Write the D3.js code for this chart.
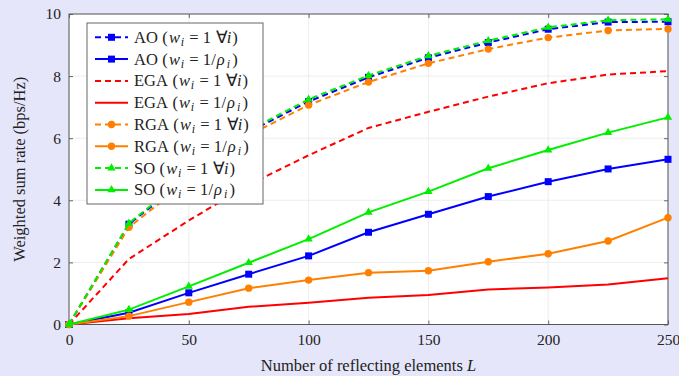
<!DOCTYPE html>
<html>
<head>
<meta charset="utf-8">
<script src="https://cdn.jsdelivr.net/npm/d3@7"></script>
<style>
  body { margin: 0; background: #e6e6fa; }
  svg text { font-family: "Liberation Serif", "Times New Roman", Times, serif; }
</style>
</head>
<body>
<svg id="chart" width="679" height="376"></svg>
<script>
// data
const elements = [0, 25, 50, 75, 100, 125, 150, 175, 200, 225, 250];
const aoEqual = [0, 3.23, 4.75, 6.2, 7.18, 7.96, 8.59, 9.08, 9.51, 9.74, 9.75];
const aoWeighted = [0, 0.38, 1.02, 1.62, 2.21, 2.97, 3.55, 4.12, 4.6, 5.01, 5.32];
const egaEqual = [0, 2.11, 3.35, 4.5, 5.45, 6.33, 6.85, 7.34, 7.77, 8.05, 8.16];
const egaWeighted = [0, 0.2, 0.34, 0.57, 0.7, 0.86, 0.95, 1.13, 1.19, 1.29, 1.49];
const rgaEqual = [0, 3.13, 4.65, 6.1, 7.07, 7.81, 8.41, 8.87, 9.24, 9.47, 9.52];
const rgaWeighted = [0, 0.27, 0.72, 1.17, 1.43, 1.67, 1.73, 2.02, 2.28, 2.69, 3.44];
const soEqual = [0, 3.26, 4.8, 6.25, 7.25, 8.02, 8.65, 9.14, 9.57, 9.8, 9.83];
const soWeighted = [0, 0.48, 1.23, 1.99, 2.75, 3.61, 4.28, 5.03, 5.62, 6.18, 6.67];

const xTicks = [0, 50, 100, 150, 200, 250];
const yTicks = [0, 2, 4, 6, 8, 10];

const series = [
  { algo: "AO", w: "eq", values: aoEqual, color: "#0000ff", dash: true, marker: "square" },
  { algo: "AO", w: "rho", values: aoWeighted, color: "#0000ff", dash: false, marker: "square" },
  { algo: "EGA", w: "eq", values: egaEqual, color: "#ff0000", dash: true, marker: null },
  { algo: "EGA", w: "rho", values: egaWeighted, color: "#ff0000", dash: false, marker: null },
  { algo: "RGA", w: "eq", values: rgaEqual, color: "#ff8000", dash: true, marker: "circle" },
  { algo: "RGA", w: "rho", values: rgaWeighted, color: "#ff8000", dash: false, marker: "circle" },
  { algo: "SO", w: "eq", values: soEqual, color: "#00ee00", dash: true, marker: "triangle" },
  { algo: "SO", w: "rho", values: soWeighted, color: "#00ee00", dash: false, marker: "triangle" }
];

const margin = { top: 14, right: 11, bottom: 51.5, left: 69 };
const W = 679, H = 376;
const pw = W - margin.left - margin.right, ph = H - margin.top - margin.bottom;
const serif = "Liberation Serif, Times New Roman, serif";

const svg = d3.select("#chart");
const g = svg.append("g").attr("transform", `translate(${margin.left},${margin.top})`);

const x = d3.scaleLinear().domain([0, 250]).range([0, pw]);
const y = d3.scaleLinear().domain([0, 10]).range([ph, 0]);

g.append("rect").attr("width", pw).attr("height", ph).attr("fill", "#fff");

// grid
g.selectAll(".gx").data(xTicks).enter().append("line")
  .attr("x1", d => x(d)).attr("x2", d => x(d)).attr("y1", 0).attr("y2", ph)
  .attr("stroke", "#e8e8e8").attr("stroke-width", 0.8);
g.selectAll(".gy").data(yTicks).enter().append("line")
  .attr("y1", d => y(d)).attr("y2", d => y(d)).attr("x1", 0).attr("x2", pw)
  .attr("stroke", "#e8e8e8").attr("stroke-width", 0.8);

// axes (ticks inward, on both sides)
const axB = g.append("g").attr("transform", `translate(0,${ph})`)
  .call(d3.axisBottom(x).tickValues(xTicks).tickSize(-4).tickPadding(9));
const axT = g.append("g").call(d3.axisTop(x).tickValues(xTicks).tickSize(-4).tickFormat(""));
const axL = g.append("g").call(d3.axisLeft(y).tickValues(yTicks).tickSize(-4).tickPadding(8));
const axR = g.append("g").attr("transform", `translate(${pw},0)`)
  .call(d3.axisRight(y).tickValues(yTicks).tickSize(-4).tickFormat(""));
[axB, axT, axL, axR].forEach(a => {
  a.attr("font-family", serif).attr("font-size", 15.5);
  a.select(".domain").remove();
  a.selectAll(".tick line").attr("stroke", "#666");
  a.selectAll("text").attr("fill", "#222");
});

g.append("rect").attr("width", pw).attr("height", ph)
  .attr("fill", "none").attr("stroke", "#555").attr("stroke-width", 1);

// lines
const line = d3.line().x((d, i) => x(elements[i])).y(d => y(d));

function drawMarker(sel, type, color) {
  if (type === "square") {
    sel.append("rect").attr("x", -3.5).attr("y", -3.5).attr("width", 7).attr("height", 7).attr("fill", color);
  } else if (type === "circle") {
    sel.append("circle").attr("r", 3.7).attr("fill", color);
  } else if (type === "triangle") {
    sel.append("path").attr("d", d3.symbol(d3.symbolTriangle, 30)()).attr("fill", color);
  }
}

series.forEach(s => {
  g.append("path").datum(s.values)
    .attr("d", line)
    .attr("fill", "none")
    .attr("stroke", s.color)
    .attr("stroke-width", 2)
    .attr("stroke-dasharray", s.dash ? "6,4" : null);
  if (s.marker) {
    s.values.forEach((v, i) => {
      const m = g.append("g").attr("transform", `translate(${x(elements[i])},${y(v)})`);
      drawMarker(m, s.marker, s.color);
    });
  }
});

// axis titles
svg.append("text")
  .attr("x", margin.left + pw / 2).attr("y", 371)
  .attr("text-anchor", "middle").attr("font-size", 16.5).attr("fill", "#222")
  .text("Number of reflecting elements ")
  .append("tspan").attr("font-style", "italic").text("L");

svg.append("text")
  .attr("transform", `translate(25,${margin.top + ph / 2}) rotate(-90)`)
  .attr("text-anchor", "middle").attr("font-size", 16.5).attr("fill", "#222")
  .text("Weighted sum rate (bps/Hz)");

// legend
const lg = svg.append("g").attr("transform", "translate(87,23)");
lg.append("rect").attr("width", 176).attr("height", 181)
  .attr("fill", "#fff").attr("stroke", "#666").attr("stroke-width", 1);

// math pieces placed from the "(" : [text, offset, italic, subscript]
const eqParts = [["(", 0, 0, 0], ["w", 6.6, 1, 0], ["i", 18.3, 1, 1], ["=", 27, 0, 0], ["1", 40.5, 0, 0],
  ["\u2200", 53.5, 0, 0], ["i", 64.5, 1, 0], [")", 70, 0, 0]];
const rhoParts = [["(", 0, 0, 0], ["w", 6.6, 1, 0], ["i", 18.3, 1, 1], ["=", 27, 0, 0], ["1", 40.5, 0, 0],
  ["/", 49, 0, 0], ["\u03c1", 54.5, 1, 0], ["i", 64.5, 1, 1], [")", 70, 0, 0]];

const fs = 16.5;
series.forEach((s, i) => {
  const row = lg.append("g").attr("transform", `translate(0,${14.3 + i * 21.8})`);
  row.append("line").attr("x1", 8).attr("x2", 41).attr("y1", 0).attr("y2", 0)
    .attr("stroke", s.color).attr("stroke-width", 2)
    .attr("stroke-dasharray", s.dash ? "6,4" : null);
  if (s.marker) drawMarker(row.append("g").attr("transform", "translate(24.5,0)"), s.marker, s.color);

  const head = row.append("text").attr("x", 47).attr("y", 5.5).attr("font-size", fs).attr("fill", "#222")
    .text(s.algo);
  const x0 = 47 + head.node().getComputedTextLength() + 4.5;
  (s.w === "eq" ? eqParts : rhoParts).forEach(p => {
    row.append("text")
      .attr("x", x0 + p[1]).attr("y", p[3] ? 8.5 : 5.5)
      .attr("font-size", p[3] ? 12 : fs)
      .attr("font-style", p[2] ? "italic" : null)
      .attr("fill", "#222")
      .text(p[0]);
  });
});
</script>
</body>
</html>
